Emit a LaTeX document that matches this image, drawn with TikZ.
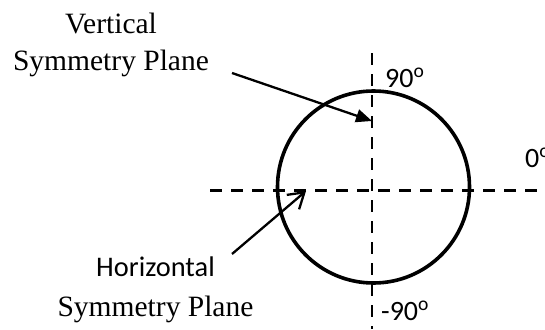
\documentclass[tikz,border=0pt]{standalone}
\usepackage{fontspec}
\setmainfont{Liberation Serif}
\newfontfamily\calib{Carlito}
\usetikzlibrary{arrows.meta}
\begin{document}
\begin{tikzpicture}[x=1pt,y=-1pt,
  axisline/.style={line width=2.1pt,dash pattern=on 12pt off 9pt},
  ring/.style={line width=3.6pt},
  pointer/.style={line width=2.3pt},
  serlabel/.style={font=\fontsize{29.5}{37}\selectfont,align=center,inner sep=0pt},
  anglelabel/.style={font=\calib\fontsize{28}{30}\selectfont,inner sep=0pt,anchor=base west}]
\useasboundingbox (0,0) rectangle (545,329);
% axes
\coordinate (vtop) at (372,53);
\coordinate (vbot) at (372,329);
\coordinate (hleft) at (210,190.5);
\coordinate (hright) at (545,190.5);
\draw[axisline] (vtop) -- (vbot);
\draw[axisline] (hleft) -- (hright);
% circle
\node[ring,draw,circle,minimum size=192pt,inner sep=0pt] (ring) at (373.5,187) {};
% labels
\node[serlabel] (vlab) at (111,44.5) {Vertical\\Symmetry Plane};
\node[serlabel] (hlab) at (155.5,290) {{\calib\fontsize{28.4}{30}\selectfont Horizontal}\\[3pt]Symmetry Plane};
\node[anglelabel] (a90) at (385,87) {90\textsuperscript{o}};
\node[anglelabel] (am90) at (381,320) {-90\textsuperscript{o}};
\node[anglelabel] (a0) at (525,167) {0\textsuperscript{o}};
% pointers
\coordinate (vstart) at (232,73);
\coordinate (vtip) at (372,121);
\coordinate (hstart) at (232,254);
\coordinate (htip) at (306,191);
\draw[pointer,-{Triangle[length=16pt,width=13pt]}] (vstart) -- (vtip);
\draw[pointer,-{Straight Barb[length=15pt,width=19pt]}] (hstart) -- (htip);
\end{tikzpicture}
\end{document}
